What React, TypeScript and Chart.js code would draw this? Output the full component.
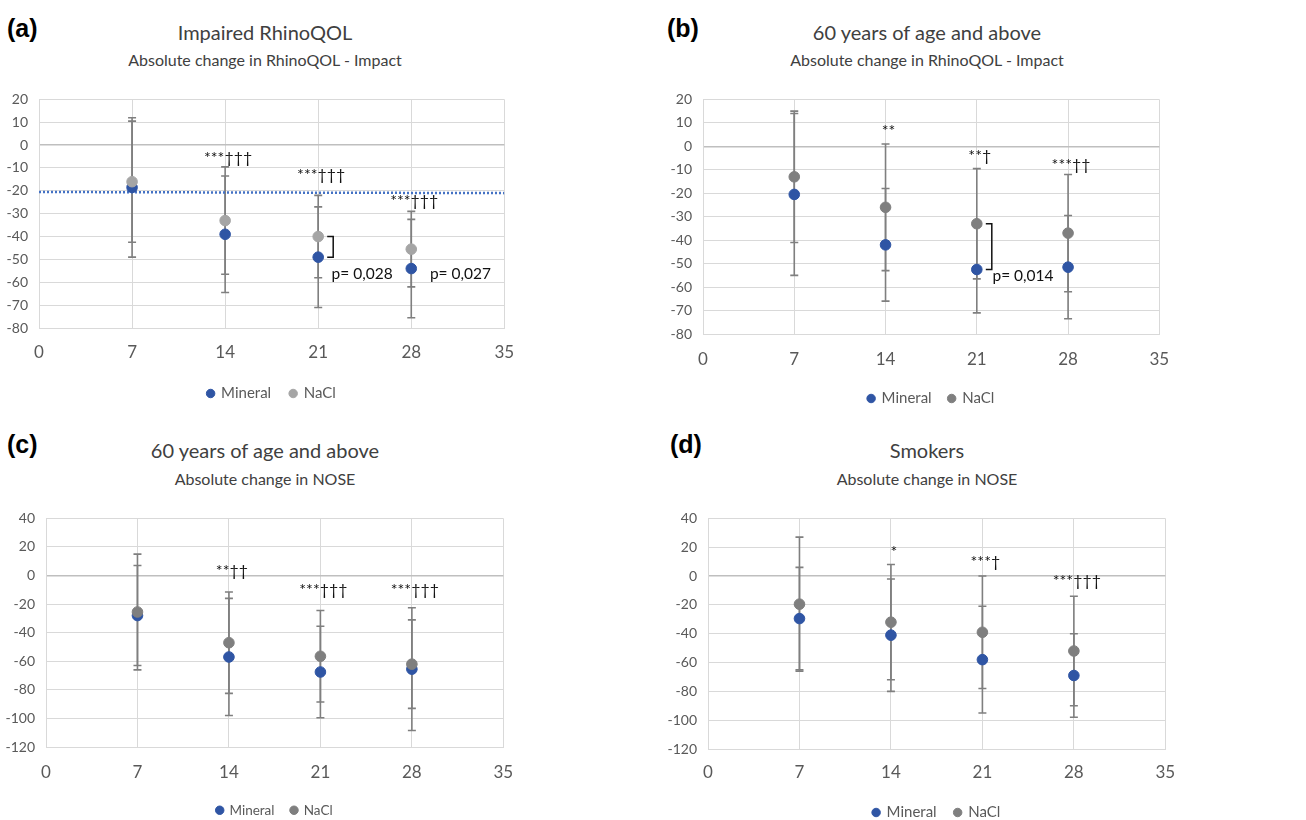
import React, { useEffect, useRef } from "react";
import { Chart, registerables } from "chart.js";

Chart.register(...registerables);

const FONT = "Lato, 'Open Sans', sans-serif";
const BLUE = "#2F55A4";
const ERR = "#7F7F7F";
const GRID = "#D9D9D9";
const TXT = "#595959";

// shared x categories (days)
const days = [7, 14, 21, 28];

// (a) Impaired RhinoQOL – RhinoQOL Impact
const aMineral = [-18.5, -39, -49, -54];
const aMineralSD = [30.5, 25.5, 22, 21.5];
const aNaCl = [-16, -33, -40, -45.5];
const aNaClSD = [26.5, 23.5, 18, 16.5];
const aSig = ["", "***†††", "***†††", "***†††"];
const aSigY = [0, -5.6, -13, -24.4];
const aRefLine = [-20.5, -21];
const aBrackets = [21];
const aPNotes = [
  { x: 22, y: -56.5, text: "p= 0,028" },
  { x: 29.4, y: -56.5, text: "p= 0,027" },
];

// (b) 60 years of age and above – RhinoQOL Impact
const bMineral = [-20.5, -42, -52.5, -51.5];
const bMineralSD = [34.5, 24, 18.5, 22];
const bNaCl = [-13, -26, -33, -37];
const bNaClSD = [28, 27, 23.5, 25];
const bSig = ["", "**", "**†", "***††"];
const bSigY = [0, 6.7, -4, -8];
const bBrackets = [21];
const bPNotes = [{ x: 22.2, y: -55.4, text: "p= 0,014" }];

// (c) 60 years of age and above – NOSE
const cMineral = [-28, -57, -67.5, -65.5];
const cMineralSD = [35, 41, 32, 43];
const cNaCl = [-25.5, -47, -56.5, -62];
const cNaClSD = [40.5, 35.5, 32, 31];
const cSig = ["", "**††", "***†††", "***†††"];
const cSigY = [0, 3, -10, -10];

// (d) Smokers – NOSE
const dMineral = [-29.5, -41, -58, -69];
const dMineralSD = [35.5, 39, 37, 29];
const dNaCl = [-19.5, -32, -39, -52];
const dNaClSD = [46.5, 40, 39, 38];
const dSig = ["", "*", "***†", "***†††"];
const dSigY = [0, 17, 10, -3.4];

type Note = { x: number; y: number; text: string };
type Panel = {
  label: string;
  title: string;
  subtitle: string;
  left: number;
  labelX: number;
  labelY: number;
  titleCX: number;
  titleY: number;
  subY: number;
  plotLeft: number;
  plotRight: number;
  plotTop: number;
  plotBottom: number;
  xLabelY: number;
  legendY: number;
  legendFont: number;
  yMin: number;
  yMax: number;
  yStep: number;
  naclColor: string;
  mineral: number[];
  mineralSD: number[];
  nacl: number[];
  naclSD: number[];
  sig: string[];
  sigY: number[];
  refLine?: number[];
  brackets: number[];
  notes: Note[];
};

const panels: Panel[] = [
  {
    label: "(a)", title: "Impaired RhinoQOL", subtitle: "Absolute change in RhinoQOL - Impact",
    left: 0, labelX: 7, labelY: 30, titleCX: 265, titleY: 32, subY: 60,
    plotLeft: 39, plotRight: 507, plotTop: 94, plotBottom: 328, xLabelY: 353, legendY: 393, legendFont: 15,
    yMin: -80, yMax: 20, yStep: 10, naclColor: "#A5A5A5",
    mineral: aMineral, mineralSD: aMineralSD, nacl: aNaCl, naclSD: aNaClSD,
    sig: aSig, sigY: aSigY, refLine: aRefLine, brackets: aBrackets, notes: aPNotes,
  },
  {
    label: "(b)", title: "60 years of age and above", subtitle: "Absolute change in RhinoQOL - Impact",
    left: 650, labelX: 667, labelY: 30, titleCX: 927, titleY: 32, subY: 60,
    plotLeft: 703, plotRight: 1163, plotTop: 94, plotBottom: 334, xLabelY: 360, legendY: 398, legendFont: 15,
    yMin: -80, yMax: 20, yStep: 10, naclColor: "#7F7F7F",
    mineral: bMineral, mineralSD: bMineralSD, nacl: bNaCl, naclSD: bNaClSD,
    sig: bSig, sigY: bSigY, brackets: bBrackets, notes: bPNotes,
  },
  {
    label: "(c)", title: "60 years of age and above", subtitle: "Absolute change in NOSE",
    left: 0, labelX: 7, labelY: 446, titleCX: 265, titleY: 450, subY: 479,
    plotLeft: 46, plotRight: 507, plotTop: 513, plotBottom: 747, xLabelY: 773, legendY: 810, legendFont: 13.5,
    yMin: -120, yMax: 40, yStep: 20, naclColor: "#7F7F7F",
    mineral: cMineral, mineralSD: cMineralSD, nacl: cNaCl, naclSD: cNaClSD,
    sig: cSig, sigY: cSigY, brackets: [], notes: [],
  },
  {
    label: "(d)", title: "Smokers", subtitle: "Absolute change in NOSE",
    left: 650, labelX: 670, labelY: 446, titleCX: 927, titleY: 450, subY: 479,
    plotLeft: 708, plotRight: 1167, plotTop: 513, plotBottom: 749, xLabelY: 773, legendY: 812, legendFont: 15,
    yMin: -120, yMax: 40, yStep: 20, naclColor: "#7F7F7F",
    mineral: dMineral, mineralSD: dMineralSD, nacl: dNaCl, naclSD: dNaClSD,
    sig: dSig, sigY: dSigY, brackets: [], notes: [],
  },
];

const PAD_TOP = 14;
const PAD_RIGHT = 22;
const X_FONT = 17;

function geometry(p: Panel) {
  const canvasTop = p.plotTop - PAD_TOP;
  const canvasLeft = p.left;
  const width = p.plotRight - canvasLeft + PAD_RIGHT;
  const height = Math.round(p.legendY + p.legendFont / 2 + 10 - canvasTop);
  const xAxisH = p.xLabelY - p.plotBottom + 14;
  const legendPad = height - (p.plotBottom - canvasTop) - xAxisH - p.legendFont - 10;
  const xTickPad = p.xLabelY - p.plotBottom - (X_FONT * 1.2) / 2;
  return { canvasTop, canvasLeft, width, height, xAxisH, legendPad, xTickPad };
}

function ChartPanel({ p }: { p: Panel }) {
  const ref = useRef<HTMLCanvasElement>(null);
  const g = geometry(p);

  useEffect(() => {
    if (!ref.current) return;
    const datasets: any[] = [
      {
        label: "Mineral",
        data: days.map((d, i) => ({ x: d, y: p.mineral[i] })),
        errorBars: p.mineralSD,
        backgroundColor: BLUE,
        borderColor: BLUE,
        pointRadius: 5.3,
        pointHoverRadius: 5.3,
        pointStyle: "circle",
        showLine: false,
        order: 1,
      },
      {
        label: "NaCl",
        data: days.map((d, i) => ({ x: d, y: p.nacl[i] })),
        errorBars: p.naclSD,
        backgroundColor: p.naclColor,
        borderColor: p.naclColor,
        pointRadius: 5.3,
        pointHoverRadius: 5.3,
        pointStyle: "circle",
        showLine: false,
        order: 0,
      },
    ];
    if (p.refLine) {
      datasets.push({
        label: "ref",
        isRef: true,
        data: [
          { x: 0, y: p.refLine[0] },
          { x: 35, y: p.refLine[1] },
        ],
        showLine: true,
        borderColor: "#4472C4",
        backgroundColor: "#4472C4",
        borderWidth: 2.5,
        borderDash: [2, 2],
        pointRadius: 0,
        fill: false,
        order: 2,
      });
    }

    const errorBarPlugin = {
      id: "errorBars",
      beforeDatasetsDraw(chart: any) {
        const { ctx, scales } = chart;
        const xs = scales.x;
        const ys = scales.y;
        ctx.save();
        ctx.strokeStyle = ERR;
        ctx.lineWidth = 1.6;
        chart.data.datasets.forEach((ds: any) => {
          if (!ds.errorBars) return;
          ds.data.forEach((pt: any, i: number) => {
            const sd = ds.errorBars[i];
            const px = xs.getPixelForValue(pt.x);
            const top = ys.getPixelForValue(pt.y + sd);
            const bot = ys.getPixelForValue(pt.y - sd);
            ctx.beginPath();
            ctx.moveTo(px, top);
            ctx.lineTo(px, bot);
            ctx.moveTo(px - 4, top);
            ctx.lineTo(px + 4, top);
            ctx.moveTo(px - 4, bot);
            ctx.lineTo(px + 4, bot);
            ctx.stroke();
          });
        });
        ctx.restore();
      },
    };

    const notesPlugin = {
      id: "notes",
      afterDatasetsDraw(chart: any) {
        const { ctx, scales } = chart;
        const xs = scales.x;
        const ys = scales.y;
        ctx.save();
        ctx.fillStyle = "#111";
        ctx.font = `16px ${FONT}`;
        ctx.textAlign = "center";
        ctx.textBaseline = "middle";
        p.sig.forEach((s, i) => {
          if (!s) return;
          ctx.fillText(s, xs.getPixelForValue(days[i]) + 3, ys.getPixelForValue(p.sigY[i]));
        });
        ctx.strokeStyle = "#111";
        ctx.lineWidth = 1.5;
        p.brackets.forEach((day) => {
          const i = days.indexOf(day);
          const px = xs.getPixelForValue(day);
          const y1 = ys.getPixelForValue(p.nacl[i]);
          const y2 = ys.getPixelForValue(p.mineral[i]);
          ctx.beginPath();
          ctx.moveTo(px + 9, y1);
          ctx.lineTo(px + 15, y1);
          ctx.lineTo(px + 15, y2);
          ctx.lineTo(px + 9, y2);
          ctx.stroke();
        });
        ctx.font = `15.5px ${FONT}`;
        ctx.textAlign = "left";
        p.notes.forEach((n) => {
          ctx.fillText(n.text, xs.getPixelForValue(n.x), ys.getPixelForValue(n.y));
        });
        ctx.restore();
      },
    };

    const chart = new Chart(ref.current, {
      type: "scatter",
      data: { datasets },
      plugins: [errorBarPlugin, notesPlugin],
      options: {
        animation: false,
        responsive: false,
        maintainAspectRatio: false,
        layout: { padding: { left: 0, right: PAD_RIGHT, top: PAD_TOP, bottom: 0 } },
        plugins: {
          tooltip: { enabled: false },
          title: { display: false },
          legend: {
            display: true,
            position: "bottom",
            fullSize: false,
            labels: {
              usePointStyle: true,
              pointStyle: "circle",
              boxWidth: 6,
              boxHeight: 6,
              padding: g.legendPad,
              color: TXT,
              font: { family: FONT, size: p.legendFont },
              filter: (item: any, data: any) => !data.datasets[item.datasetIndex].isRef,
              sort: (a: any, b: any) => a.datasetIndex - b.datasetIndex,
            },
          },
        },
        scales: {
          x: {
            type: "linear",
            min: 0,
            max: 35,
            ticks: {
              stepSize: 7,
              color: TXT,
              padding: g.xTickPad,
              font: { family: FONT, size: X_FONT },
              autoSkip: false,
            },
            grid: { color: GRID, drawTicks: false, lineWidth: 1 },
            border: { color: GRID, width: 1 },
            afterFit: (s: any) => {
              s.height = g.xAxisH;
            },
          },
          y: {
            type: "linear",
            min: p.yMin,
            max: p.yMax,
            ticks: {
              stepSize: p.yStep,
              color: TXT,
              padding: 11,
              font: { family: FONT, size: 14 },
              autoSkip: false,
            },
            grid: {
              color: (c: any) => (c.tick && c.tick.value === 0 ? "#BFBFBF" : GRID),
              lineWidth: (c: any) => (c.tick && c.tick.value === 0 ? 1.6 : 1),
              drawTicks: false,
            },
            border: { color: GRID, width: 1 },
            afterFit: (s: any) => {
              s.width = p.plotLeft - p.left;
            },
          },
        },
      } as any,
    });
    return () => chart.destroy();
  }, []);

  return (
    <>
      <div
        style={{
          position: "absolute",
          left: p.labelX,
          top: p.labelY - 16,
          height: 32,
          lineHeight: "32px",
          font: "bold 25px 'Liberation Sans', Arial, sans-serif",
          color: "#000",
        }}
      >
        {p.label}
      </div>
      <div
        style={{
          position: "absolute",
          left: p.titleCX - 300,
          width: 600,
          top: p.titleY - 14,
          height: 28,
          lineHeight: "28px",
          textAlign: "center",
          fontFamily: FONT,
          fontSize: 20,
          color: "#404040",
          whiteSpace: "nowrap",
        }}
      >
        {p.title}
      </div>
      <div
        style={{
          position: "absolute",
          left: p.titleCX - 300,
          width: 600,
          top: p.subY - 11,
          height: 22,
          lineHeight: "22px",
          textAlign: "center",
          fontFamily: FONT,
          fontSize: 16,
          color: "#404040",
          whiteSpace: "nowrap",
        }}
      >
        {p.subtitle}
      </div>
      <canvas
        ref={ref}
        width={g.width}
        height={g.height}
        style={{
          position: "absolute",
          left: g.canvasLeft,
          top: g.canvasTop,
          width: g.width,
          height: g.height,
        }}
      />
    </>
  );
}

export default function App() {
  return (
    <div
      style={{
        position: "fixed",
        left: 0,
        top: 0,
        width: 1306,
        height: 820,
        overflow: "hidden",
        background: "#fff",
      }}
    >
      {panels.map((p) => (
        <ChartPanel key={p.label} p={p} />
      ))}
    </div>
  );
}
